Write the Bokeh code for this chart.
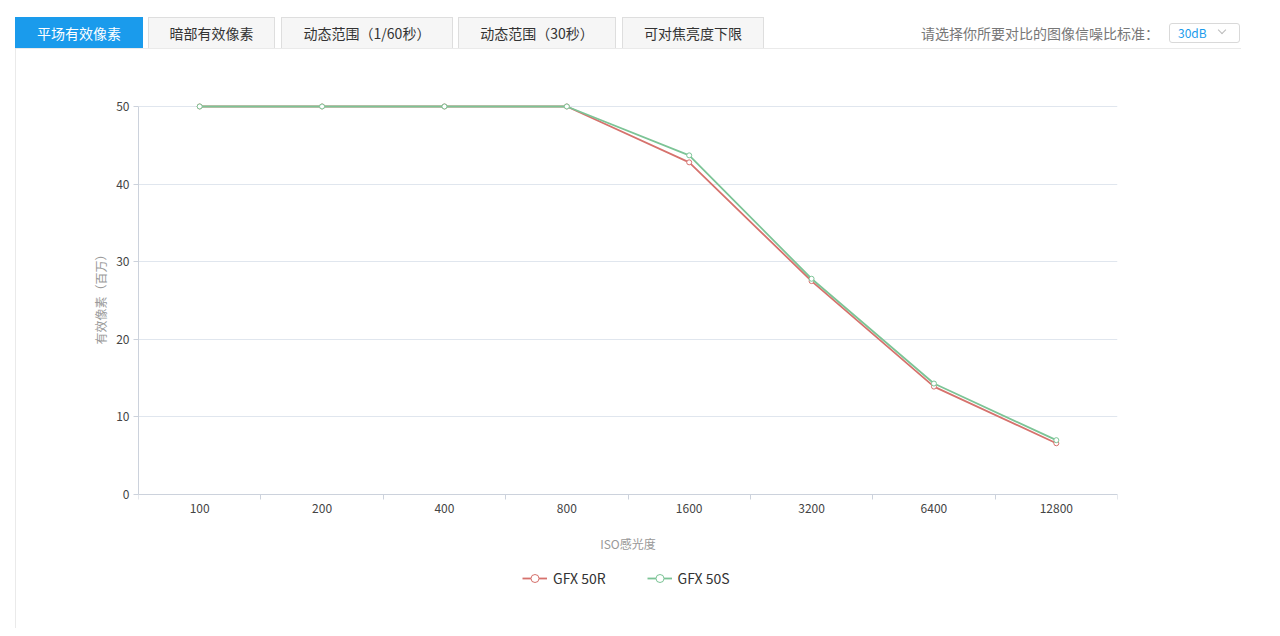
from bokeh.plotting import figure
from bokeh.models import Range1d, FixedTicker, Legend, LegendItem, Div
from bokeh.layouts import column
from bokeh.embed import file_html
from bokeh.resources import INLINE

# ---- data ----
iso_labels = ["100", "200", "400", "800", "1600", "3200", "6400", "12800"]
gfx50r = [50, 50, 50, 50, 42.8, 27.5, 13.9, 6.6]
gfx50s = [50, 50, 50, 50, 43.7, 27.8, 14.3, 7.0]
series_names = ["GFX 50R", "GFX 50S"]
y_ticks = [0, 10, 20, 30, 40, 50]
y_title = "有效像素（百万）"
x_title = "ISO感光度"
tab_labels = ["平场有效像素", "暗部有效像素", "动态范围（1/60秒）", "动态范围（30秒）", "可对焦亮度下限"]
select_label = "请选择你所要对比的图像信噪比标准："
select_value = "30dB"

FONT = "Noto Sans CJK SC"
RED = "#d6726d"
GREEN = "#7cc496"
BLUE = "#1a9bec"

PAGE_W = 1264

# ---- tab bar (HTML) ----
tab_left = [15, 148, 281, 458, 622]
tab_right = [143, 275, 453, 616, 764]
parts = []
for i, (l, r, t) in enumerate(zip(tab_left, tab_right, tab_labels)):
    active = i == 0
    bg = BLUE if active else "#f6f6f6"
    bc = BLUE if active else "#dedede"
    fc = "#ffffff" if active else "#333333"
    parts.append(
        f'<div style="position:absolute;left:{l}px;top:17px;width:{r - l}px;height:31px;'
        f'box-sizing:border-box;background:{bg};border:1px solid {bc};border-bottom:none;'
        f'color:{fc};font-size:14px;line-height:30px;text-align:center;white-space:nowrap;">{t}</div>')
parts.append(
    f'<div style="position:absolute;right:{PAGE_W - 1159}px;top:22px;line-height:22px;'
    f'font-size:14px;color:#777777;white-space:nowrap;">{select_label}</div>')
parts.append(
    '<div style="position:absolute;left:1169px;top:23px;width:71px;height:20px;box-sizing:border-box;'
    'border:1px solid #d9d9d9;border-radius:3px;background:#fff;">'
    f'<span style="position:absolute;left:8px;top:0px;line-height:18px;font-size:12px;color:{BLUE};">{select_value}</span>'
    '<span style="position:absolute;left:49px;top:3px;width:6px;height:6px;border-right:1px solid #bbbbbb;'
    'border-bottom:1px solid #bbbbbb;transform:rotate(45deg);"></span></div>')
html = (f'<div style="position:relative;width:{PAGE_W}px;height:48px;font-family:\'{FONT}\',sans-serif;">'
        + "".join(parts) + "</div>")
tabs = Div(text=html, width=PAGE_W, height=48, margin=(0, 0, 0, 0))

# ---- main chart ----
n = len(iso_labels)
xs = [i + 0.5 for i in range(n)]
y_top = 50.77          # small headroom above the 50 line
y_bottom = -13.66      # room under the axis for the x labels and the legend

p = figure(frame_width=979, frame_height=500, x_range=Range1d(0, n), y_range=Range1d(y_bottom, y_top),
           output_backend="svg", toolbar_location=None,
           min_border_left=123, min_border_right=124, min_border_top=52, min_border_bottom=28,
           styles={"outline": "1px solid #e3e3e3", "outline-offset": "-1px"})
p.margin = (0, 0, 0, 15)
p.outline_line_color = None
p.background_fill_color = "white"
p.border_fill_color = "white"
p.xgrid.visible = False
p.ygrid.grid_line_color = "#e0e6ee"
p.ygrid.ticker = FixedTicker(ticks=y_ticks)

xa = p.xaxis[0]
xa.fixed_location = 0
xa.ticker = FixedTicker(ticks=xs, minor_ticks=list(range(n + 1)))
xa.major_label_overrides = {x: lab for x, lab in zip(xs, iso_labels)}
xa.major_tick_out = 0
xa.major_tick_in = 0
xa.minor_tick_out = 5
xa.minor_tick_in = 0
xa.minor_tick_line_color = "#ccd2dc"
xa.axis_line_color = "#ccd2dc"
xa.major_label_standoff = 5
xa.axis_label = x_title
xa.axis_label_standoff = 18

ya = p.yaxis[0]
ya.bounds = (y_ticks[0], y_ticks[-1])
ya.ticker = FixedTicker(ticks=y_ticks)
ya.major_tick_out = 5
ya.major_tick_in = 0
ya.minor_tick_out = 0
ya.minor_tick_in = 0
ya.major_tick_line_color = "#ccd2dc"
ya.axis_line_color = "#ccd2dc"
ya.major_label_standoff = 4
# the title is centred on the (taller) frame; leading ideographic spaces lift it
# to the middle of the 0-50 span
ya.axis_label = "\u3000" * 9 + y_title
ya.axis_label_standoff = 4

for ax in (xa, ya):
    ax.major_label_text_font = FONT
    ax.major_label_text_font_size = "12px"
    ax.major_label_text_color = "#444444"
    ax.axis_label_text_font = FONT
    ax.axis_label_text_font_size = "12px"
    ax.axis_label_text_font_style = "normal"
    ax.axis_label_text_color = "#999999"

items = []
for name, vals, col in zip(series_names, [gfx50r, gfx50s], [RED, GREEN]):
    ln = p.line(xs, vals, line_color=col, line_width=1.8)
    mk = p.scatter(xs, vals, marker="circle", size=5, fill_color="white", line_color=col, line_width=1)
    items.append(LegendItem(label=name, renderers=[ln, mk]))

legend = Legend(items=items, orientation="horizontal", location=(384, 12),
                label_text_font=FONT, label_text_font_size="14px", label_text_color="#333333",
                glyph_width=25, glyph_height=20, spacing=41, label_standoff=6,
                margin=0, padding=8, border_line_color=None, background_fill_alpha=0)
p.add_layout(legend)

out = column(tabs, p, spacing=0)
open("out.html", "w").write(file_html(out, INLINE))
